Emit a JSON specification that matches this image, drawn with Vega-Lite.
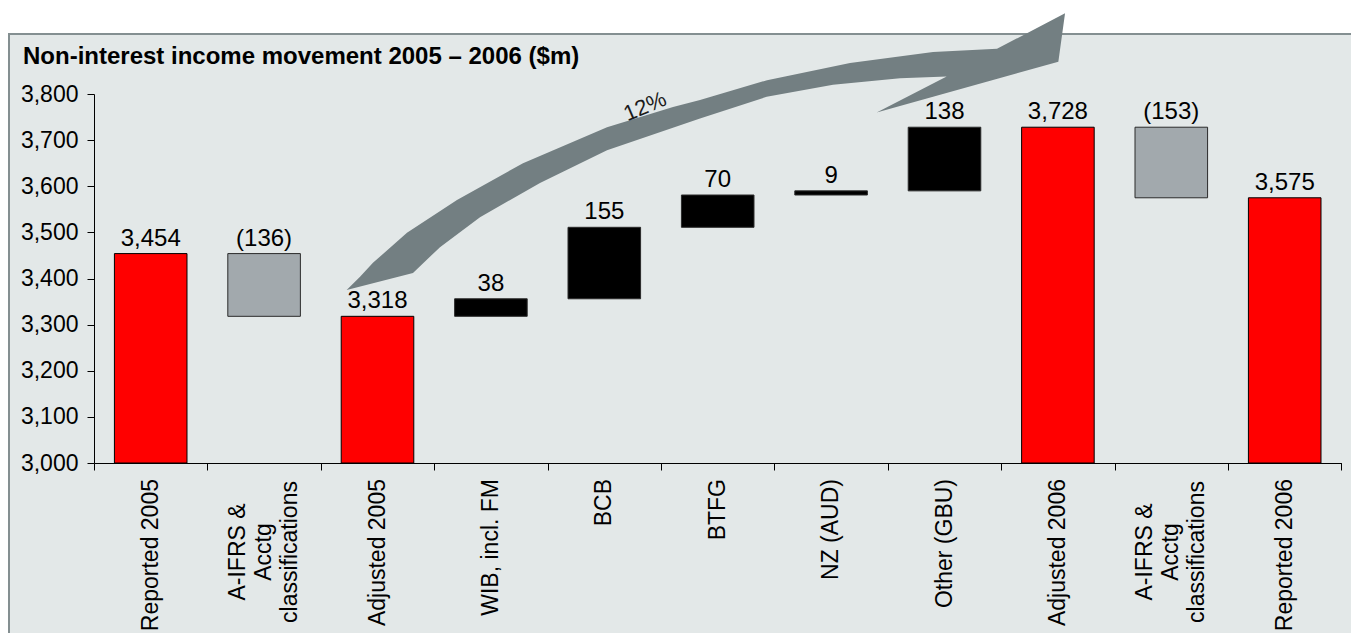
{
  "$schema": "https://vega.github.io/schema/vega-lite/v6.json",
  "width": 1342,
  "height": 599,
  "autosize": "none",
  "padding": {"left": 9, "top": 34, "right": 0, "bottom": 0},
  "background": "#ffffff",
  "title": {
    "text": "Non-interest income movement 2005 – 2006 ($m)",
    "anchor": "start",
    "frame": "group",
    "font": "Liberation Sans",
    "fontSize": 24,
    "fontWeight": "bold",
    "color": "#000000",
    "baseline": "alphabetic",
    "offset": 0,
    "dx": 14,
    "dy": 75
  },
  "config": {
    "font": "Liberation Sans",
    "view": {"fill": "#e3e8e8", "stroke": "#848f91", "strokeWidth": 2, "strokeDash": [1342, 1941, 599]}
  },
  "datasets": {
    "steps": [
      {"i": 1, "cat": "Reported 2005", "kind": "total", "from": null, "to": 3454, "label": "3,454"},
      {"i": 2, "cat": "A-IFRS &|Acctg|classifications", "kind": "decrease", "from": 3454, "to": 3318, "label": "(136)"},
      {"i": 3, "cat": "Adjusted 2005", "kind": "total", "from": null, "to": 3318, "label": "3,318"},
      {"i": 4, "cat": "WIB, incl. FM", "kind": "increase", "from": 3318, "to": 3356, "label": "38"},
      {"i": 5, "cat": "BCB", "kind": "increase", "from": 3356, "to": 3511, "label": "155"},
      {"i": 6, "cat": "BTFG", "kind": "increase", "from": 3511, "to": 3581, "label": "70"},
      {"i": 7, "cat": "NZ (AUD)", "kind": "increase", "from": 3581, "to": 3590, "label": "9"},
      {"i": 8, "cat": "Other (GBU)", "kind": "increase", "from": 3590, "to": 3728, "label": "138"},
      {"i": 9, "cat": "Adjusted 2006", "kind": "total", "from": null, "to": 3728, "label": "3,728"},
      {"i": 10, "cat": "A-IFRS &|Acctg|classifications\u200b", "kind": "decrease", "from": 3728, "to": 3575, "label": "(153)"},
      {"i": 11, "cat": "Reported 2006", "kind": "total", "from": null, "to": 3575, "label": "3,575"}
    ],
    "arrow": [
      {"i": 0, "u": 2.228, "v": 3375},
      {"i": 1, "u": 2.346, "v": 3404},
      {"i": 2, "u": 2.46, "v": 3434},
      {"i": 3, "u": 2.76, "v": 3499},
      {"i": 4, "u": 3.201, "v": 3570},
      {"i": 5, "u": 3.783, "v": 3650},
      {"i": 6, "u": 4.524, "v": 3728},
      {"i": 7, "u": 5.106, "v": 3772},
      {"i": 8, "u": 5.344, "v": 3787},
      {"i": 9, "u": 5.935, "v": 3830},
      {"i": 10, "u": 6.667, "v": 3867},
      {"i": 11, "u": 7.399, "v": 3891},
      {"i": 12, "u": 7.963, "v": 3898},
      {"i": 13, "u": 8.563, "v": 3975},
      {"i": 14, "u": 8.504, "v": 3870},
      {"i": 15, "u": 6.902, "v": 3760},
      {"i": 16, "u": 7.519, "v": 3838},
      {"i": 17, "u": 7.108, "v": 3834},
      {"i": 18, "u": 6.517, "v": 3820},
      {"i": 19, "u": 5.932, "v": 3794},
      {"i": 20, "u": 5.344, "v": 3747},
      {"i": 21, "u": 4.524, "v": 3678},
      {"i": 22, "u": 3.933, "v": 3607},
      {"i": 23, "u": 3.404, "v": 3533},
      {"i": 24, "u": 3.051, "v": 3468},
      {"i": 25, "u": 2.813, "v": 3412},
      {"i": 26, "u": 2.228, "v": 3375}
    ]
  },
  "layer": [
    {
      "data": {"name": "steps"},
      "encoding": {
        "x": {
          "field": "cat",
          "type": "nominal",
          "sort": {"field": "i", "op": "min"},
          "scale": {"range": [85, 1332.4], "paddingInner": 0, "paddingOuter": 0},
          "axis": {
            "orient": "bottom",
            "offset": -170,
            "title": null,
            "grid": false,
            "labels": false,
            "domainColor": "#000000",
            "domainWidth": 1,
            "tickColor": "#000000",
            "tickWidth": 1,
            "tickSize": 7,
            "tickBand": "extent"
          }
        }
      },
      "layer": [
        {
          "transform": [{"filter": "datum.kind == 'total'"}],
          "mark": {"type": "bar", "width": {"band": 0.64}, "fill": "#ff0000", "stroke": "#000000", "strokeWidth": 1},
          "encoding": {
            "y": {
              "field": "to",
              "type": "quantitative",
              "scale": {"domain": [3000, 3800], "range": [429, 60], "zero": false, "nice": false},
              "axis": {
                "title": null,
                "values": [3000, 3100, 3200, 3300, 3400, 3500, 3600, 3700, 3800],
                "format": ",.0f",
                "offset": -85,
                "grid": false,
                "domainColor": "#000000",
                "domainWidth": 1,
                "tickColor": "#000000",
                "tickWidth": 1,
                "tickSize": 7,
                "labelPadding": 9,
                "labelFont": "Liberation Sans",
                "labelFontSize": 23,
                "labelColor": "#000000"
              }
            },
            "y2": {"datum": 3000}
          }
        },
        {
          "transform": [{"filter": "datum.kind != 'total'"}],
          "mark": {"type": "bar", "width": {"band": 0.64}, "stroke": "#2b2b2b", "strokeWidth": 1},
          "encoding": {
            "y": {"field": "from", "type": "quantitative", "axis": {"title": null}},
            "y2": {"field": "to"},
            "color": {
              "field": "kind",
              "type": "nominal",
              "scale": {"domain": ["decrease", "increase"], "range": ["#a2a9ad", "#000000"]},
              "legend": null
            }
          }
        },
        {
          "transform": [{"filter": "datum.kind != 'decrease'"}],
          "mark": {"type": "text", "baseline": "alphabetic", "align": "center", "dy": -8, "fontSize": 24, "color": "#000000"},
          "encoding": {
            "y": {"field": "to", "type": "quantitative", "axis": {"title": null}},
            "text": {"field": "label"}
          }
        },
        {
          "transform": [{"filter": "datum.kind == 'decrease'"}],
          "mark": {"type": "text", "baseline": "alphabetic", "align": "center", "dy": -8, "fontSize": 24, "color": "#000000"},
          "encoding": {
            "y": {"field": "from", "type": "quantitative", "axis": {"title": null}},
            "text": {"field": "label"}
          }
        },
        {
          "transform": [{"filter": "indexof(datum.cat, '|') < 0"}],
          "mark": {"type": "text", "angle": 270, "align": "right", "baseline": "middle", "dx": -16, "fontSize": 23, "color": "#000000"},
          "encoding": {
            "y": {"datum": 3000, "type": "quantitative", "axis": {"title": null}},
            "text": {"field": "cat"}
          }
        },
        {
          "transform": [{"filter": "indexof(datum.cat, '|') >= 0"}],
          "mark": {"type": "text", "angle": 270, "align": "center", "baseline": "middle", "lineBreak": "|", "lineHeight": 26, "dx": -89, "dy": -26, "fontSize": 23, "color": "#000000"},
          "encoding": {
            "y": {"datum": 3000, "type": "quantitative", "axis": {"title": null}},
            "text": {"field": "cat"}
          }
        }
      ]
    },
    {
      "layer": [
        {
          "data": {"name": "arrow"},
          "mark": {"type": "line", "fill": "#737f82", "stroke": null, "strokeWidth": 0, "interpolate": "linear", "clip": false},
          "encoding": {
            "x": {"field": "u", "type": "quantitative", "scale": {"domain": [0, 11], "range": [85, 1332.4], "zero": false, "nice": false}, "axis": null},
            "y": {"field": "v", "type": "quantitative", "axis": {"title": null}, "scale": {"domain": [3000, 3800], "range": [429, 60], "zero": false, "nice": false}},
            "order": {"field": "i", "type": "quantitative"}
          }
        },
        {
          "data": {"values": [{"u": 4.86, "v": 3773, "text": "12%"}]},
          "mark": {"type": "text", "angle": -23, "align": "center", "baseline": "middle", "fontSize": 22, "color": "#1a1a1a"},
          "encoding": {
            "x": {"field": "u", "type": "quantitative", "axis": null},
            "y": {"field": "v", "type": "quantitative", "axis": {"title": null}},
            "text": {"field": "text"}
          }
        }
      ]
    }
  ],
  "resolve": {"scale": {"x": "independent"}, "axis": {"x": "independent"}}
}
